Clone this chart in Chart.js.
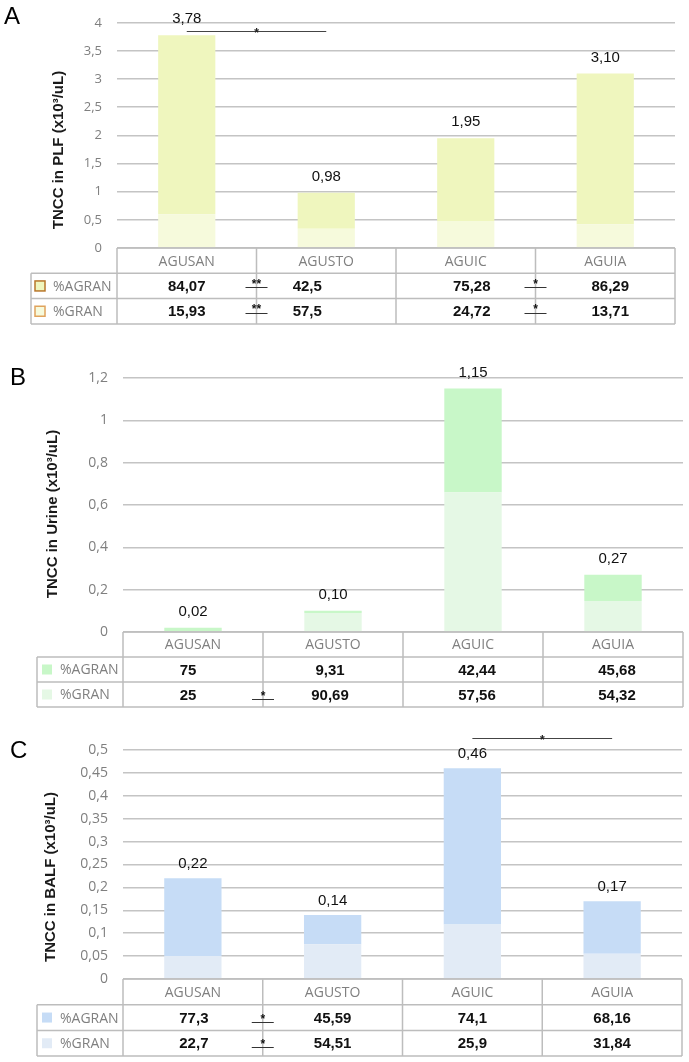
<!DOCTYPE html>
<html>
<head>
<meta charset="utf-8">
<script src="https://cdn.jsdelivr.net/npm/chart.js@4.4.1/dist/chart.umd.min.js"></script>
<style>
  body { margin: 0; background: #fff; width: 689px; height: 1062px; position: relative; overflow: hidden; }
  canvas { position: absolute; left: 0; }
</style>
</head>
<body>
<canvas id="chartA" width="689" height="330" style="top:0"></canvas>
<canvas id="chartB" width="689" height="385" style="top:330px"></canvas>
<canvas id="chartC" width="689" height="347" style="top:715px"></canvas>
<script>
// =====================
// DATOS
// =====================
const categories = ["AGUSAN", "AGUSTO", "AGUIC", "AGUIA"];

// A - PLF
const plfGran   = [0.60, 0.34, 0.48, 0.42];
const plfAgran  = [3.18, 0.64, 1.47, 2.68];
const plfTotals = ["3,78", "0,98", "1,95", "3,10"];
const plfAgranPct = ["84,07", "42,5", "75,28", "86,29"];
const plfGranPct  = ["15,93", "57,5", "24,72", "13,71"];
const plfTicks = ["0", "0,5", "1", "1,5", "2", "2,5", "3", "3,5", "4"];

// B - Urine
const urineGran   = [0.005, 0.09, 0.66, 0.147];
const urineAgran  = [0.015, 0.01, 0.49, 0.123];
const urineTotals = ["0,02", "0,10", "1,15", "0,27"];
const urineAgranPct = ["75", "9,31", "42,44", "45,68"];
const urineGranPct  = ["25", "90,69", "57,56", "54,32"];
const urineTicks = ["0", "0,2", "0,4", "0,6", "0,8", "1", "1,2"];

// C - BALF
const balfGran   = [0.05, 0.076, 0.119, 0.055];
const balfAgran  = [0.17, 0.064, 0.341, 0.115];
const balfTotals = ["0,22", "0,14", "0,46", "0,17"];
const balfAgranPct = ["77,3", "45,59", "74,1", "68,16"];
const balfGranPct  = ["22,7", "54,51", "25,9", "31,84"];
const balfTicks = ["0", "0,05", "0,1", "0,15", "0,2", "0,25", "0,3", "0,35", "0,4", "0,45", "0,5"];

// significancia (row 0 = %AGRAN, row 1 = %GRAN, col = borde izquierdo de la columna)
const plfTableSig   = [{ row: 0, col: 1, mark: "**" }, { row: 1, col: 1, mark: "**" },
                       { row: 0, col: 3, mark: "*" },  { row: 1, col: 3, mark: "*" }];
const urineTableSig = [{ row: 1, col: 1, mark: "*" }];
const balfTableSig  = [{ row: 0, col: 1, mark: "*" }, { row: 1, col: 1, mark: "*" }];
const plfBracket  = { from: 0, to: 1, level: 3.86, mark: "*" };
const balfBracket = { from: 2, to: 3, level: 0.526, mark: "*" };

// =====================
// CONFIG POR PANEL
// =====================
const panels = {
  chartA: {
    letter: "A", letterPos: [4, 24],
    title: "TNCC in PLF (x10³/uL)", titlePos: [59, 150],
    gran: plfGran, agran: plfAgran, totals: plfTotals,
    agranPct: plfAgranPct, granPct: plfGranPct, ticks: plfTicks,
    max: 4, step: 0.5, tickFont: 13,
    granColor: "#f6fadc", agranColor: "#eff6be",
    boxBorder: ["#b8772a", "#e0a35c"],
    padding: { top: 19, bottom: 82, right: 14, left: 0 }, axisW: 117,
    tableLeft: 31, rowH: 25.3, boxX: 4, textX: 22,
    valueShift: [0, -19, 6, 5],
    sig: plfTableSig, bracket: plfBracket, sigLine: 1.5, sigStar: -5,
    labelGap: 16
  },
  chartB: {
    letter: "B", letterPos: [10, 55],
    title: "TNCC in Urine (x10³/uL)", titlePos: [53, 184],
    gran: urineGran, agran: urineAgran, totals: urineTotals,
    agranPct: urineAgranPct, granPct: urineGranPct, ticks: urineTicks,
    max: 1.2, step: 0.2, tickFont: 14,
    granColor: "#e5f8e5", agranColor: "#c8f7c8",
    boxBorder: null,
    padding: { top: 48, bottom: 83, right: 6, left: 0 }, axisW: 123,
    tableLeft: 37, rowH: 25, boxX: 5, textX: 23,
    valueShift: [-5, -3, 4, 4],
    sig: urineTableSig, bracket: null, sigLine: 4, sigStar: -2,
    labelGap: 16
  },
  chartC: {
    letter: "C", letterPos: [10, 43],
    title: "TNCC in BALF (x10³/uL)", titlePos: [51, 162],
    gran: balfGran, agran: balfAgran, totals: balfTotals,
    agranPct: balfAgranPct, granPct: balfGranPct, ticks: balfTicks,
    max: 0.5, step: 0.05, tickFont: 14,
    granColor: "#e2ebf6", agranColor: "#c6dcf6",
    boxBorder: null,
    padding: { top: 35, bottom: 83, right: 7, left: 0 }, axisW: 123,
    tableLeft: 37, rowH: 25.7, boxX: 5, textX: 23,
    valueShift: [1, 0, 0, 0],
    sig: balfTableSig, bracket: balfBracket, sigLine: 4, sigStar: -2,
    labelGap: 14
  }
};

// =====================
// PLUGIN: letra, título, totales, tabla
// =====================
const decor = {
  id: "decor",
  afterDraw(chart) {
    const cfg = panels[chart.canvas.id];
    const ctx = chart.ctx;
    const area = chart.chartArea;
    const xs = chart.scales.x, ys = chart.scales.y;
    const n = categories.length;
    const colW = (area.right - area.left) / n;

    ctx.save();

    // letra del panel
    ctx.fillStyle = "#000";
    ctx.font = '24px "Liberation Sans", Arial';
    ctx.textAlign = "left";
    ctx.textBaseline = "alphabetic";
    ctx.fillText(cfg.letter, cfg.letterPos[0], cfg.letterPos[1]);

    // título eje Y
    ctx.save();
    ctx.translate(cfg.titlePos[0], cfg.titlePos[1]);
    ctx.rotate(-Math.PI / 2);
    ctx.font = 'bold 15px "Liberation Sans", Arial';
    ctx.textAlign = "center";
    ctx.textBaseline = "middle";
    ctx.fillStyle = "#1a1a1a";
    ctx.fillText(cfg.title, 0, 0);
    ctx.restore();

    // totales sobre las barras
    ctx.font = '15px "Liberation Sans", Arial';
    ctx.fillStyle = "#111";
    ctx.textAlign = "center";
    ctx.textBaseline = "middle";
    chart.getDatasetMeta(1).data.forEach((bar, i) => {
      ctx.fillText(cfg.totals[i], bar.x, bar.y - cfg.labelGap);
    });

    // barra de significancia arriba
    if (cfg.bracket) {
      const b = cfg.bracket;
      const x1 = xs.getPixelForValue(b.from), x2 = xs.getPixelForValue(b.to);
      const y = Math.round(ys.getPixelForValue(b.level)) + 0.5;
      ctx.strokeStyle = "#444";
      ctx.lineWidth = 1;
      ctx.beginPath();
      ctx.moveTo(x1, y);
      ctx.lineTo(x2, y);
      ctx.stroke();
      ctx.font = 'bold 12px "Liberation Sans", Arial';
      ctx.fillStyle = "#222";
      ctx.textBaseline = "alphabetic";
      ctx.fillText(b.mark, (x1 + x2) / 2, y + 5);
    }

    // tabla
    const rows = [0, 1, 2, 3].map(k => area.bottom + k * cfg.rowH);
    ctx.strokeStyle = "#bdbdbd";
    ctx.lineWidth = 1.5;
    ctx.beginPath();
    ctx.moveTo(area.left, rows[0]);
    ctx.lineTo(area.right, rows[0]);
    for (let k = 1; k < 4; k++) {
      ctx.moveTo(cfg.tableLeft, rows[k]);
      ctx.lineTo(area.right, rows[k]);
    }
    for (let i = 0; i <= n; i++) {
      const x = area.left + i * colW;
      ctx.moveTo(x, rows[0]);
      ctx.lineTo(x, rows[3]);
    }
    ctx.moveTo(cfg.tableLeft, rows[1]);
    ctx.lineTo(cfg.tableLeft, rows[3]);
    ctx.stroke();

    const mid = k => (rows[k] + rows[k + 1]) / 2;

    // encabezado
    ctx.textAlign = "center";
    ctx.textBaseline = "middle";
    ctx.font = '14px "Open Sans", sans-serif';
    ctx.fillStyle = "#808080";
    categories.forEach((c, i) => ctx.fillText(c, xs.getPixelForValue(i), mid(0) + 1));

    // leyenda
    const legend = [
      { label: "%AGRAN", color: cfg.agranColor },
      { label: "%GRAN", color: cfg.granColor }
    ];
    legend.forEach((l, k) => {
      const cy = mid(k + 1);
      const bx = cfg.tableLeft + cfg.boxX;
      ctx.fillStyle = l.color;
      ctx.fillRect(bx, cy - 5, 10, 10);
      if (cfg.boxBorder) {
        ctx.strokeStyle = cfg.boxBorder[k];
        ctx.lineWidth = 1.5;
        ctx.strokeRect(bx, cy - 5, 10, 10);
      }
      ctx.fillStyle = "#808080";
      ctx.textAlign = "left";
      ctx.fillText(l.label, cfg.tableLeft + cfg.textX, cy + 1);
    });

    // valores
    ctx.textAlign = "center";
    ctx.font = 'bold 15px "Liberation Sans", Arial';
    ctx.fillStyle = "#111";
    [cfg.agranPct, cfg.granPct].forEach((vals, k) => {
      vals.forEach((v, i) => ctx.fillText(v, xs.getPixelForValue(i) + cfg.valueShift[i], mid(k + 1) + 1));
    });

    // significancia en la tabla
    cfg.sig.forEach(s => {
      const x = area.left + s.col * colW;
      const cy = mid(s.row + 1);
      const ly = Math.round(cy + cfg.sigLine) + 0.5;
      ctx.strokeStyle = "#333";
      ctx.lineWidth = 1;
      ctx.beginPath();
      ctx.moveTo(x - 11, ly);
      ctx.lineTo(x + 11, ly);
      ctx.stroke();
      ctx.font = 'bold 12px "Liberation Sans", Arial';
      ctx.fillStyle = "#111";
      ctx.textBaseline = "alphabetic";
      ctx.fillText(s.mark, x, cy + cfg.sigStar + 7);
      ctx.textBaseline = "middle";
    });

    ctx.restore();
  }
};

// =====================
// GRÁFICOS
// =====================
function crearGrafico(id) {
  const cfg = panels[id];
  return new Chart(document.getElementById(id), {
    type: "bar",
    data: {
      labels: categories,
      datasets: [
        { label: "%GRAN", data: cfg.gran, backgroundColor: cfg.granColor },
        { label: "%AGRAN", data: cfg.agran, backgroundColor: cfg.agranColor }
      ]
    },
    options: {
      responsive: false,
      animation: false,
      events: [],
      layout: { padding: cfg.padding },
      datasets: { bar: { categoryPercentage: 1, barPercentage: 0.41, borderWidth: 0 } },
      plugins: { legend: { display: false }, tooltip: { enabled: false } },
      scales: {
        x: { stacked: true, display: false },
        y: {
          stacked: true,
          min: 0,
          max: cfg.max,
          border: { display: false },
          grid: { color: "#c4c4c4", lineWidth: 1.5, drawTicks: false },
          ticks: {
            stepSize: cfg.step,
            padding: 15,
            color: "#7f7f7f",
            font: { family: "'Open Sans', sans-serif", size: cfg.tickFont },
            callback: (v, i) => cfg.ticks[i]
          },
          afterFit: s => { s.width = cfg.axisW; }
        }
      }
    },
    plugins: [decor]
  });
}

crearGrafico("chartA");
crearGrafico("chartB");
crearGrafico("chartC");
</script>
</body>
</html>
